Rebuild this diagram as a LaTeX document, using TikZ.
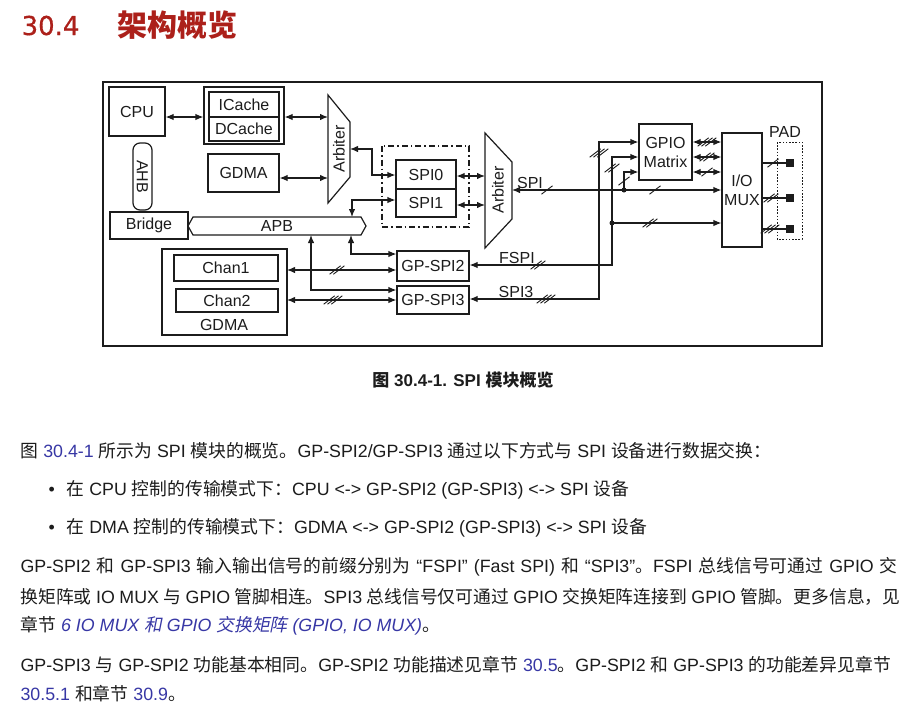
\documentclass[tikz,border=0pt]{standalone}
\usepackage{fontspec}
\setmainfont{Liberation Sans}
\newfontfamily\latinfont{Liberation Sans}
\newfontfamily\cjk[ItalicFont={Noto Sans CJK SC},ItalicFeatures={FakeSlant=0.2}]{Noto Sans CJK SC}
\newfontfamily\titlenum[FakeBold=0.6]{DejaVu Sans}
\usetikzlibrary{arrows.meta,calc}
% automatic switch to the CJK font for CJK characters
\XeTeXinterchartokenstate=1
\chardef\cjkcls=7
\newcount\cjkcnt
\cjkcnt="4E00 \loop\XeTeXcharclass\cjkcnt=\cjkcls\advance\cjkcnt by 1 \ifnum\cjkcnt<"A000 \repeat
\cjkcnt="3000 \loop\XeTeXcharclass\cjkcnt=\cjkcls\advance\cjkcnt by 1 \ifnum\cjkcnt<"3040 \repeat
\cjkcnt="FF00 \loop\XeTeXcharclass\cjkcnt=\cjkcls\advance\cjkcnt by 1 \ifnum\cjkcnt<"FFF0 \repeat
\XeTeXinterchartoks 0 \cjkcls={\cjk}
\XeTeXinterchartoks 4095 \cjkcls={\cjk}
\XeTeXinterchartoks \cjkcls 0={\latinfont}
\XeTeXinterchartoks \cjkcls 4095={\latinfont}
\definecolor{titlered}{RGB}{172,32,26}
\definecolor{linkblue}{RGB}{55,55,165}
\definecolor{ink}{RGB}{28,28,28}
\newcommand\lnk[1]{\textcolor{linkblue}{#1}}
\newcommand\mslash[3]{%
  \foreach \ii in {1,...,#3}{%
    \pgfmathsetmacro\off{(\ii-(#3+1)/2)*3.8}%
    \draw[line width=0.9pt] ({#1+\off-5.5},{#2+4.2}) -- ({#1+\off+5.5},{#2-4.2});
  }}
\begin{document}
\begin{tikzpicture}[x=1pt,y=-1pt,line width=1.2pt,draw=ink,
  dg/.style={font=\fontsize{16}{18}\selectfont,text=ink},
  box/.style={draw,dg,inner sep=0pt,line width=1.2pt},
  a2/.style={{Latex[length=8pt,width=6.5pt]}-{Latex[length=8pt,width=6.5pt]}},
  a1/.style={-{Latex[length=8pt,width=6.5pt]}},
  txt/.style={anchor=base west,inner sep=0pt,font=\fontsize{17.8}{20}\selectfont,text=ink},
  dot/.style={circle,fill=ink,inner sep=0pt,minimum size=5pt}]
\fill[white] (0,0) rectangle (916,713);
\useasboundingbox (0,0) rectangle (916,713);

% title
\node[anchor=base west,inner sep=0pt,text=titlered,font=\titlenum\fontsize{26}{28}\selectfont] (tnum) at (21,35) {30.4};
\node[anchor=base west,inner sep=0pt,text=titlered,font=\cjk\bfseries\fontsize{30}{32}\selectfont] (ttl) at (117,36) {架构概览};

% frame
\draw[line width=1.3pt] (103,82) rectangle (822,346);

% left blocks
\node[box,minimum width=56pt,minimum height=49pt] (cpu) at (137,111.5) {CPU};
\node[box,minimum width=80pt,minimum height=57pt] (cache) at (244,115.5) {};
\node[box,minimum width=70pt,minimum height=25pt] (icache) at (244,104.5) {ICache};
\node[box,minimum width=70pt,minimum height=24pt] (dcache) at (244,129) {DCache};
\node[box,rounded corners=7pt,minimum width=67pt,minimum height=19pt,rotate=-90] (ahb) at (142.5,176.5) {AHB};
\node[box,minimum width=78pt,minimum height=27pt] (bridge) at (149,225.5) {Bridge};
\draw (188,226) -- (193,217) -- (361,217) -- (366,226) -- (361,235) -- (193,235) -- cycle;
\node[dg] (apb) at (277,226) {APB};
\node[box,minimum width=71pt,minimum height=38pt] (gdma) at (243.5,173) {GDMA};

% arbiter 1
\draw (328,95) -- (350,122) -- (350,177) -- (328,203) -- cycle;
\node[dg,rotate=90] (arb1) at (339,149) {Arbiter};

% SPI0/SPI1
\draw[line width=1.1pt,dash pattern=on 6pt off 3pt on 1.5pt off 3pt] (382,146) rectangle (469,227);
\node[box,minimum width=60pt,minimum height=29pt] (spi0) at (426,174.5) {SPI0};
\node[box,minimum width=60pt,minimum height=28pt] (spi1) at (426,203) {SPI1};

% arbiter 2
\draw (485,133) -- (512,162) -- (512,219) -- (485,248) -- cycle;
\node[dg,rotate=90] (arb2) at (498,190) {Arbiter};

% GPIO matrix, IO MUX, PAD
\node[box,minimum width=53pt,minimum height=56pt,align=center,font=\fontsize{16}{19}\selectfont] (gpio) at (665.5,152) {GPIO\\Matrix};
\node[box,minimum width=40pt,minimum height=114pt,align=center,font=\fontsize{16}{19}\selectfont] (iomux) at (742,190) {I/O\\MUX};
\draw[line width=0.9pt,dash pattern=on 1.6pt off 1.6pt] (777,142) rectangle (802,239);
\node[dg] (pad) at (785,132) {PAD};
\node[fill=ink,inner sep=0pt,minimum size=7.5pt] (p1) at (790,163) {};
\node[fill=ink,inner sep=0pt,minimum size=7.5pt] (p2) at (790,198) {};
\node[fill=ink,inner sep=0pt,minimum size=7.5pt] (p3) at (790,229) {};

% GP-SPI2/3
\node[box,minimum width=72pt,minimum height=30pt] (gp2) at (433,266) {GP-SPI2};
\node[box,minimum width=72pt,minimum height=28pt] (gp3) at (433,300) {GP-SPI3};

% lower GDMA
\draw (162,249) rectangle (287,335);
\node[box,minimum width=104pt,minimum height=26pt] (chan1) at (226,268) {Chan1};
\node[box,minimum width=102pt,minimum height=23pt] (chan2) at (227,300.5) {Chan2};
\node[dg] (gdmalbl) at (224,325) {GDMA};

% connectors - left
\draw[a2] (cpu.east |- 0,117) -- (cache.west |- 0,117);
\draw[a2] (cache.east |- 0,117) -- (328,117);
\draw[a2] (gdma.east |- 0,178) -- (328,178);
\draw[a2] (350,149) -- (372,149) -- (372,175) -- (spi0.west |- 0,175);
\draw[a2] (352,217) -- (352,200) -- (spi1.west |- 0,200);
\draw[a2] (spi0.east |- 0,176) -- (485,176);
\draw[a2] (spi1.east |- 0,205) -- (485,205);

% SPI bus
\draw[a2] (512,190) -- (iomux.west |- 0,190);
\mslash{547}{190}{1}
\mslash{655}{190}{1}
\node[dg,anchor=base] (spilbl) at (530,188) {SPI};
\node[dot] (j1) at (624,190) {};
\draw[a1] (j1.center) -- (624,172) -- (gpio.west |- 0,172);
\mslash{624}{181}{1}

% FSPI
\draw[a2] (gpio.west |- 0,157) -- (612,157) -- (612,265) -- (gp2.east |- 0,265);
\mslash{612}{168}{2}
\mslash{538}{265}{2}
\node[dg,anchor=base] (fspilbl) at (517,263) {FSPI};
\node[dot] (j2) at (612,223) {};
\draw[a1] (j2.center) -- (iomux.west |- 0,223);
\mslash{650}{223}{2}

% SPI3
\draw[a2] (gpio.west |- 0,142) -- (599,142) -- (599,299) -- (gp3.east |- 0,299);
\mslash{599}{153}{3}
\mslash{546}{299}{3}
\node[dg,anchor=base] (spi3lbl) at (516,297) {SPI3};

% GPIO <-> IO MUX
\draw[a2] (gpio.east |- 0,142) -- (iomux.west |- 0,142);
\mslash{707}{142}{3}
\draw[a2] (gpio.east |- 0,157) -- (iomux.west |- 0,157);
\mslash{707}{157}{2}
\draw[a2] (gpio.east |- 0,172) -- (iomux.west |- 0,172);
\mslash{707}{172}{1}

% IO MUX -> pads
\draw (iomux.east |- p1) -- (p1);
\mslash{773}{163}{1}
\draw (iomux.east |- p2) -- (p2);
\mslash{771}{198}{2}
\draw (iomux.east |- p3) -- (p3);
\mslash{770}{229}{3}

% GDMA channels
\draw[a2] (287,270) -- (gp2.west |- 0,270);
\mslash{337}{270}{2}
\draw[a2] (287,300) -- (gp3.west |- 0,300);
\mslash{333}{300}{3}

% APB <-> GP-SPI
\draw[a2] (311,235) -- (311,290) -- (gp3.west |- 0,290);
\draw[a2] (351,235) -- (351,254) -- (gp2.west |- 0,254);

% caption
\node[inner sep=0pt,font=\bfseries\fontsize{17}{19}\selectfont,text=ink] (cap) at (463,380) {图 30.4-1. SPI 模块概览};

% body text
\node[txt] (l1) at (20,457) {图 \lnk{30.4-1} 所示为 SPI 模块的概览。GP-SPI2/GP-SPI3 通过以下方式与 SPI 设备进行数据交换：};
\node[txt] (b1) at (48,495) {•};
\node[txt] (l2) at (66,495) {在 CPU 控制的传输模式下：CPU <-> GP-SPI2 (GP-SPI3) <-> SPI 设备};
\node[txt] (b2) at (48,533) {•};
\node[txt] (l3) at (66,533) {在 DMA 控制的传输模式下：GDMA <-> GP-SPI2 (GP-SPI3) <-> SPI 设备};
\node[txt] (l4) at (20,572) {\makebox[877pt][s]{GP-SPI2 和 GP-SPI3 输入输出信号的前缀分别为 “FSPI” (Fast SPI) 和 “SPI3”。FSPI 总线信号可通过 GPIO 交}};
\node[txt] (l5) at (20,603) {\makebox[880pt][s]{换矩阵或 IO MUX 与 GPIO 管脚相连。SPI3 总线信号仅可通过 GPIO 交换矩阵连接到 GPIO 管脚。更多信息，见}};
\node[txt] (l6) at (20,631) {章节 \lnk{\itshape 6 IO MUX 和 GPIO 交换矩阵 (GPIO, IO MUX)}。};
\node[txt] (l7) at (20,671) {GP-SPI3 与 GP-SPI2 功能基本相同。GP-SPI2 功能描述见章节 \lnk{30.5}。GP-SPI2 和 GP-SPI3 的功能差异见章节};
\node[txt] (l8) at (20,700) {\lnk{30.5.1} 和章节 \lnk{30.9}。};
\end{tikzpicture}
\end{document}
